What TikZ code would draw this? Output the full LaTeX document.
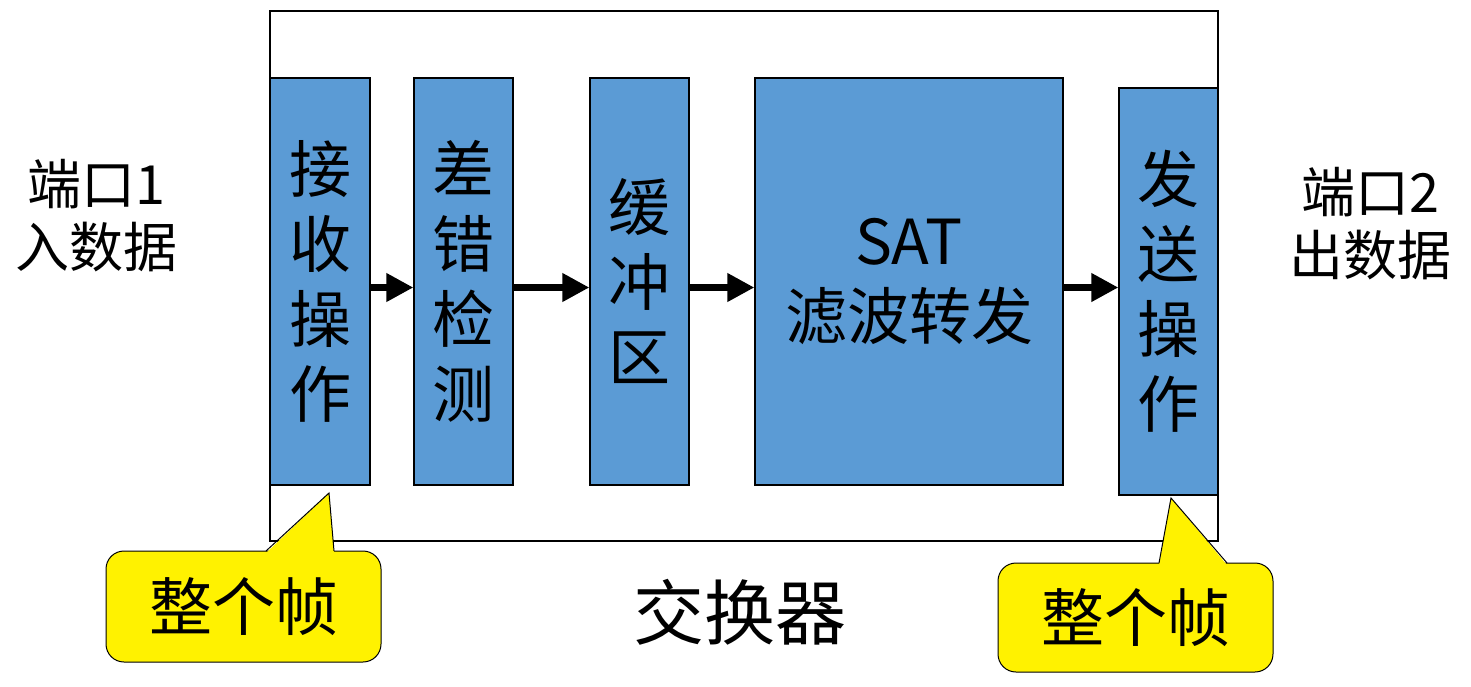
\documentclass[tikz,border=0pt]{standalone}
\usepackage{fontspec}
\setmainfont{Noto Sans CJK SC}
\usetikzlibrary{positioning, arrows.meta}
\definecolor{boxblue}{HTML}{5B9BD5}

\begin{document}
\begin{tikzpicture}[x=1pt, y=-1pt,
    blk/.style = {draw=black, line width=1.2pt, fill=boxblue, inner sep=0pt,
                  align=center, font=\fontsize{62}{75}\selectfont},
    flow/.style = {line width=7pt, -{Triangle[length=27pt, width=27pt]}},
    bubble/.style = {draw=black, line width=1pt, fill=yellow, rounded corners=18pt,
                     inner sep=0pt, font=\fontsize{63}{70}\selectfont},
    side/.style = {align=center, inner sep=0pt, font=\fontsize{54}{63}\selectfont}]
      \useasboundingbox (0,0) rectangle (1471,686);

      \node[draw=black, line width=1.5pt, minimum width=948pt, minimum height=530pt] (switch) at (744,276) {};

      \node[blk, minimum width=100pt, minimum height=407pt] (recv)  at (320,281.5)    {接\\收\\操\\作};
      \node[blk, minimum width=99pt,  minimum height=407pt] (check) at (463.5,281.5)  {差\\错\\检\\测};
      \node[blk, minimum width=99pt,  minimum height=407pt] (buf)   at (639.5,281.5)  {缓\\冲\\区};
      \node[blk, minimum width=308pt, minimum height=407pt] (sat)   at (909,281.5)    {SAT\\滤波转发};
      \node[blk, minimum width=99pt,  minimum height=407pt] (send)  at (1168.5,291.5) {发\\送\\操\\作};

      \draw[flow] ([yshift=-6pt]recv.east)  -- ([yshift=-6pt]recv.east -| check.west);
      \draw[flow] ([yshift=-6pt]check.east) -- ([yshift=-6pt]check.east -| buf.west);
      \draw[flow] ([yshift=-6pt]buf.east)   -- ([yshift=-6pt]buf.east -| sat.west);
      \draw[flow] ([yshift=-6pt]sat.east)   -- ([yshift=-6pt]sat.east -| send.west);

      \node[side] (portin)  at (96,216)   {端口1\\入数据};
      \node[side] (portout) at (1370,224) {端口2\\出数据};
      \node[font=\fontsize{71}{72}\selectfont, inner sep=0pt] (name) at (740,612) {交换器};

      \coordinate (tipin)  at (329,493);
      \coordinate (tipout) at (1171,498);
      \node[bubble, minimum width=275pt, minimum height=111pt] (framein)  at (243.5,606.5)  {整个帧};
      \node[bubble, minimum width=275pt, minimum height=109pt] (frameout) at (1135.5,617.5) {整个帧};

      \fill[yellow] (266,553) -- (tipin) -- (334,553) -- cycle;
      \draw[line width=1pt] (266,551) -- (tipin) -- (334,551);
      \fill[yellow] (1159,565) -- (tipout) -- (1227,565) -- cycle;
      \draw[line width=1pt] (1159,563) -- (tipout) -- (1227,563);
    \end{tikzpicture}
\end{document}
